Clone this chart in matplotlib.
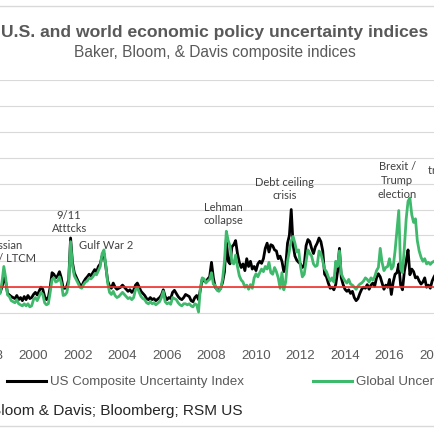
import numpy as np
import matplotlib
matplotlib.use('Agg')
import matplotlib.pyplot as plt

SANS = ['Liberation Sans', 'DejaVu Sans']

# Datos mensuales, desde junio de 1998 hasta febrero de 2018
start_year = 1998
start_month = 6
us_index = [
    92, 90, 100, 118, 110, 88, 85,                              # 1998
    82, 80, 78, 84, 76, 80, 74, 82, 76, 84, 78, 80,             # 1999
    86, 90, 85, 92, 100, 96, 82, 76, 80, 100, 128, 125,         # 2000
    118, 122, 130, 118, 98, 98, 102, 115, 195, 148, 128, 120,   # 2001
    112, 105, 102, 110, 116, 120, 125, 122, 128, 134, 130, 140, # 2002
    145, 160, 165, 140, 112, 102, 98, 108, 100, 96, 98, 100,    # 2003
    104, 100, 96, 92, 95, 90, 94, 104, 108, 100, 92, 88,        # 2004
    84, 78, 76, 80, 76, 78, 74, 77, 80, 85, 95, 82,             # 2005
    76, 80, 78, 90, 94, 88, 82, 78, 76, 80, 86, 84,             # 2006
    82, 74, 72, 80, 84, 76, 96, 115, 112, 110, 116, 120,        # 2007
    148, 118, 100, 96, 94, 98, 110, 130, 192, 150, 145, 178,    # 2008
    182, 190, 165, 148, 138, 145, 132, 155, 140, 150, 135, 140, # 2009
    132, 145, 150, 146, 155, 175, 185, 168, 182, 180, 172, 170, # 2010
    155, 160, 150, 130, 140, 185, 200, 250, 182, 160, 152, 148, # 2011
    145, 138, 142, 180, 192, 188, 175, 165, 178, 185, 195, 188, # 2012
    170, 125, 120, 108, 98, 100, 95, 105, 130, 175, 118, 105,   # 2013
    96, 92, 95, 88, 92, 80, 74, 78, 88, 96, 100, 98,            # 2014
    105, 96, 104, 108, 102, 118, 126, 120, 108, 96, 104, 100,   # 2015
    115, 86, 110, 125, 128, 145, 104, 95, 130, 150, 172, 124,   # 2016
    135, 130, 118, 120, 112, 106, 110, 118, 100, 104, 98, 112,  # 2017
    120, 126,                                                   # 2018
]
global_index = [
    86, 88, 110, 140, 118, 85, 82,                              # 1998
    74, 72, 70, 76, 68, 66, 64, 68, 64, 68, 62, 64,             # 1999
    76, 80, 74, 82, 90, 86, 70, 66, 68, 90, 115, 118,           # 2000
    110, 112, 120, 108, 84, 85, 90, 110, 188, 142, 122, 115,    # 2001
    108, 100, 98, 105, 110, 112, 118, 116, 120, 126, 124, 132,  # 2002
    140, 165, 172, 142, 108, 90, 86, 92, 84, 80, 82, 86,        # 2003
    90, 86, 82, 78, 80, 76, 80, 95, 100, 90, 82, 78,            # 2004
    76, 70, 68, 72, 68, 70, 66, 69, 72, 80, 92, 72,             # 2005
    68, 70, 67, 80, 78, 76, 70, 66, 64, 68, 68, 66,             # 2006
    68, 64, 62, 68, 66, 52, 98, 118, 116, 108, 112, 115,        # 2007
    128, 106, 104, 94, 92, 98, 116, 150, 208, 190, 180, 148,    # 2008
    145, 162, 140, 122, 114, 110, 100, 104, 96, 105, 98, 118,   # 2009
    126, 120, 128, 135, 130, 140, 135, 148, 128, 125, 138, 130, # 2010
    118, 98, 128, 95, 110, 150, 170, 190, 198, 185, 168, 172,   # 2011
    140, 120, 125, 150, 172, 165, 160, 145, 140, 142, 170, 165, # 2012
    150, 135, 130, 120, 112, 118, 110, 150, 140, 170, 126, 118, # 2013
    112, 108, 115, 106, 104, 100, 96, 102, 106, 108, 112, 118,  # 2014
    115, 110, 118, 114, 120, 132, 138, 175, 148, 132, 138, 140, # 2015
    155, 135, 140, 170, 210, 248, 135, 128, 176, 232, 266, 272, # 2016
    240, 225, 232, 190, 170, 158, 150, 155, 145, 148, 144, 148, # 2017
    150, 152,                                                   # 2018
]
baseline = 100
year_ticks = list(range(1998, 2019, 2))

# Anotaciones, una línea cada una: texto, año, valor
note_lines = [
    ('Russian', 1998.64, 183),
    ('crisis / LTCM', 1998.64, 158),
    ('9/11', 2001.60, 240),
    ('Atttcks', 2001.60, 216),
    ('Gulf War 2', 2003.25, 182),
    ('Lehman', 2008.52, 256),
    ('collapse', 2008.52, 230),
    ('Debt ceiling', 2011.29, 305),
    ('crisis', 2011.29, 279),
    ('Brexit /', 2016.34, 334),
    ('Trump', 2016.34, 307),
    ('election', 2016.34, 281),
]

W = H = 435.0


def fx(px):
    return px / W


def fy(py):
    return 1 - py / H


n = len(us_index)
t = start_year + (start_month - 1 + np.arange(n)) / 12.0

fig = plt.figure(figsize=(4.35, 4.35), dpi=100)

# Capa en píxeles para el marco y la leyenda
over = fig.add_axes([0, 0, 1, 1])
over.set_xlim(0, W)
over.set_ylim(H, 0)
over.axis('off')
over.plot([0, W], [7.3, 7.3], color='#D9D9D9', lw=1)
over.plot([0, W], [427, 427], color='#D9D9D9', lw=1)
over.plot([7, 46], [381.7, 381.7], color='black', lw=2.2)
over.plot([313, 352], [381.7, 381.7], color='#3FB96B', lw=2.2)

ax = fig.add_axes([fx(-40), fy(340), fx(515), fy(81) - fy(340)])
ax.plot(t, us_index, color='black', lw=2.0, zorder=3)
ax.plot(t, global_index, color='#3FB96B', lw=2.0, zorder=4)
ax.axhline(baseline, color='#F0302A', lw=1.2, zorder=5)

ax.set_xlim(2000 + (-40 - 33.5) / 22.25, 2000 + (475 - 33.5) / 22.25)
ax.set_ylim(0, 500)
ax.set_yticks(np.arange(0, 501, 50))
ax.set_yticklabels([])
ax.set_xticks(year_ticks)
ax.set_xticklabels([str(y) for y in year_ticks], family=SANS)
ax.tick_params(axis='both', length=0)
ax.tick_params(axis='x', colors='#595959', labelsize=9.6, pad=7)
ax.grid(axis='y', color='#D9D9D9', lw=0.8)
ax.set_axisbelow(True)
ax.patch.set_visible(False)
for s in ax.spines.values():
    s.set_visible(False)

for txt, xv, yv in note_lines:
    ax.text(xv, yv, txt, ha='center', va='center', fontsize=8, family='Lato',
            color='#404040', zorder=6)
ax.text(2000 + (427.7 - 33.5) / 22.25, 327, 'trade war',
        ha='left', va='center', fontsize=8, family='Lato', color='#404040')

over.text(215, 33, 'U.S. and world economic policy uncertainty indices',
          ha='center', va='center', fontsize=12.6, fontweight='bold',
          color='#595959', family=SANS)
over.text(215, 52.7, 'Baker, Bloom, & Davis composite indices',
          ha='center', va='center', fontsize=11.2, color='#595959', family=SANS)
over.text(50, 381.7, 'US Composite Uncertainty Index', ha='left', va='center',
          fontsize=9.6, color='#595959', family=SANS)
over.text(356, 381.7, 'Global Uncertainty Index', ha='left', va='center',
          fontsize=9.6, color='#595959', family=SANS)
over.text(243, 411, 'Source: Baker, Bloom & Davis; Bloomberg; RSM US',
          ha='right', va='center', fontsize=11.1, color='#262626', family=SANS)

fig.savefig('out.png', dpi=100)
